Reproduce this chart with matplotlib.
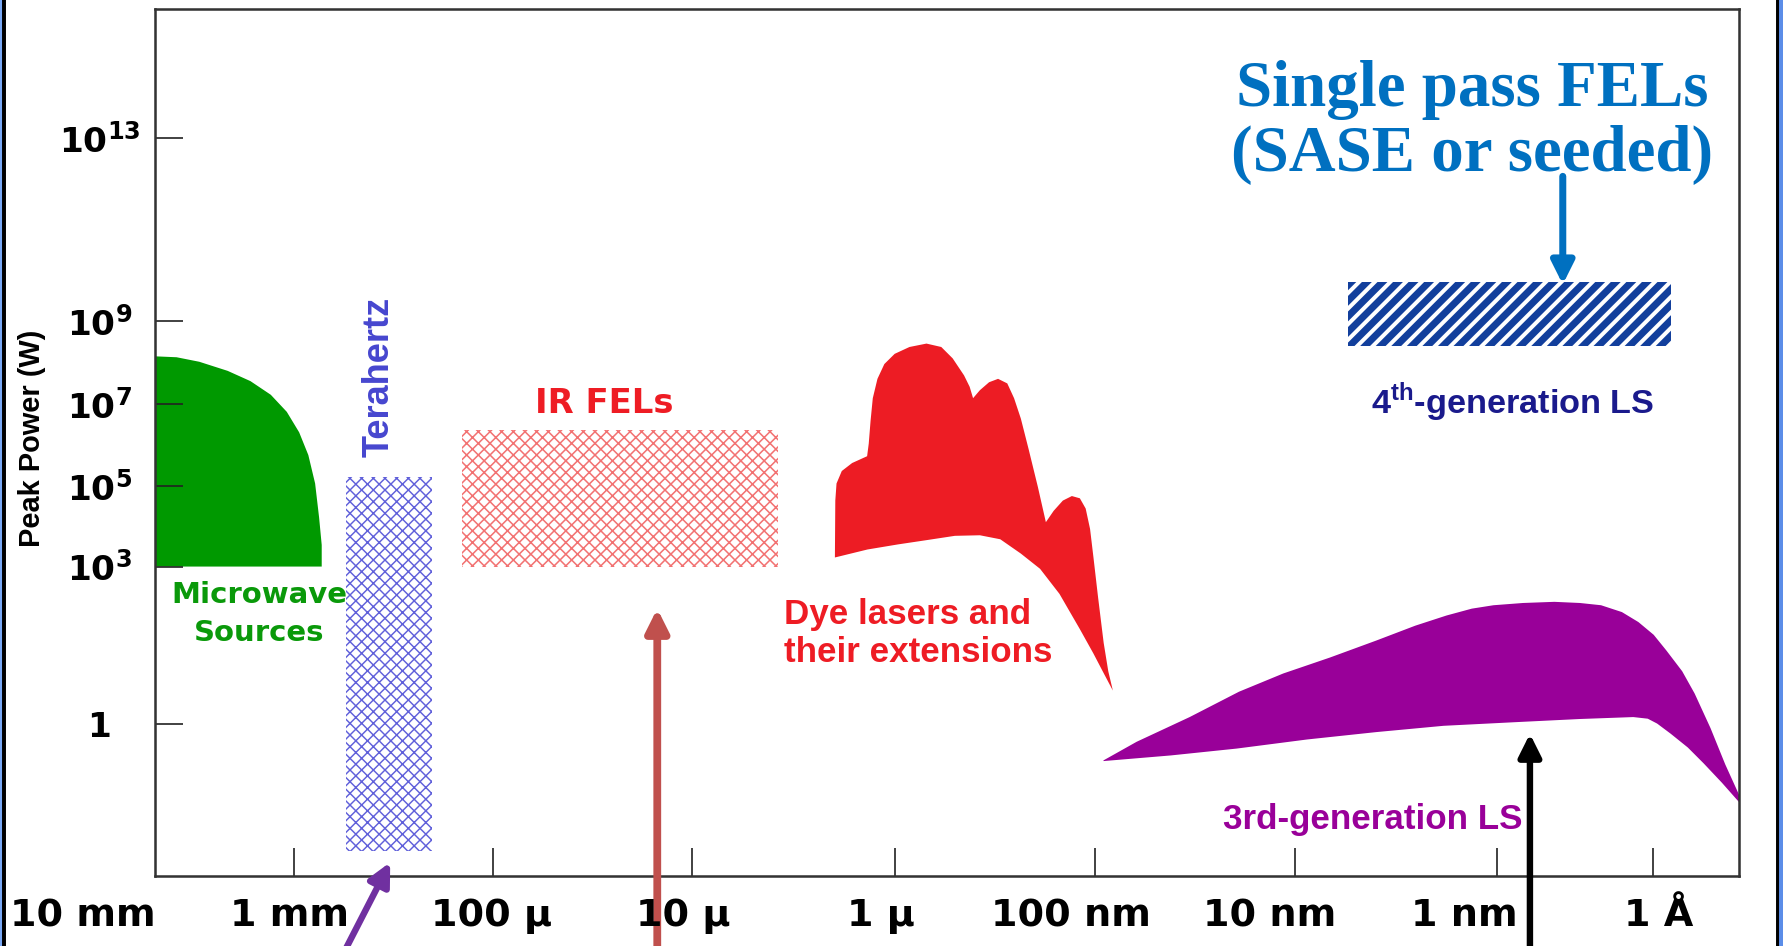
import numpy as np
import matplotlib
matplotlib.use('Agg')
import matplotlib.pyplot as plt
from matplotlib.patches import Rectangle

plt.rcParams['mathtext.fontset'] = 'custom'
plt.rcParams['mathtext.rm'] = 'Liberation Sans:bold'
plt.rcParams['mathtext.bf'] = 'DejaVu Sans:bold'
plt.rcParams['hatch.linewidth'] = 0.8

# x = -log10(wavelength / m): 10 mm -> 2, 1 mm -> 3, 1 A -> 10
x_ticks = [3, 4, 5, 6, 7, 8, 9, 10]
x_label_pos = [2, 3, 4, 5, 6, 7, 8, 9, 10]
x_labels = ['10 mm', '1 mm', '100 μ', '10 μ', '1 μ', '100 nm', '10 nm', '1 nm', '1 Å']
# y = log10(peak power / W)
y_ticks = [0, 3, 5, 7, 9, 13]
y_labels = ['1', r'$\mathbf{10^{3}}$', r'$\mathbf{10^{5}}$', r'$\mathbf{10^{7}}$',
            r'$\mathbf{10^{9}}$', r'$\mathbf{10^{13}}$']

# source regions (outlines)
micro_n = [2.307, 2.414, 2.528, 2.670, 2.784, 2.886, 2.966, 3.028, 3.074, 3.108, 3.128,
           3.141, 3.141, 2.307]
micro_e = [8.145, 8.123, 8.014, 7.795, 7.548, 7.219, 6.806, 6.306, 5.75, 5.056, 4.211,
           3.535, 3.0, 3.0]

dye_n = [5.705, 5.707, 5.713, 5.739, 5.790, 5.864, 5.872, 5.881, 5.892, 5.915, 5.949, 6.0,
         6.074, 6.159, 6.233, 6.290, 6.347, 6.375, 6.392, 6.426, 6.472, 6.517, 6.563,
         6.597, 6.631, 6.670, 6.716, 6.756, 6.795, 6.841, 6.886, 6.926, 6.955, 6.977,
         6.994, 7.017, 7.045, 7.068, 7.091, 7.040, 6.994, 6.926, 6.824, 6.727, 6.631,
         6.528, 6.426, 6.301, 6.151, 6.017, 5.866, 5.705]
dye_e = [3.225, 4.634, 5.056, 5.361, 5.556, 5.722, 6.028, 6.583, 7.137, 7.603, 7.959, 8.205,
         8.370, 8.452, 8.370, 8.096, 7.685, 7.411, 7.137, 7.329, 7.521, 7.603, 7.493,
         7.137, 6.639, 5.889, 4.972, 4.099, 4.380, 4.634, 4.746, 4.690, 4.437, 3.930,
         3.225, 2.413, 1.543, 1.0, 0.630, 1.0, 1.337, 1.804, 2.478, 2.957, 3.321,
         3.676, 3.775, 3.761, 3.648, 3.549, 3.423, 3.225]

sr_n = [7.044, 7.210, 7.475, 7.722, 7.943, 8.174, 8.404, 8.596, 8.751, 8.876, 8.983, 9.168,
        9.369, 9.533, 9.669, 9.803, 9.909, 10.007, 10.088, 10.190, 10.270, 10.372, 10.467,
        10.555, 10.555, 10.445, 10.328, 10.226, 10.117, 10.029, 9.969, 9.876, 9.533,
        9.128, 8.736, 8.404, 8.062, 7.710, 7.381, 7.044]
sr_e = [-0.704, -0.348, 0.124, 0.609, 0.957, 1.261, 1.587, 1.870, 2.065, 2.196, 2.261, 2.304,
        2.326, 2.304, 2.261, 2.130, 1.939, 1.696, 1.398, 1.0, 0.574, -0.087, -0.783,
        -1.359, -1.5, -1.130, -0.761, -0.457, -0.196, 0.0, 0.093, 0.124, 0.087,
        0.028, -0.043, -0.163, -0.304, -0.478, -0.609, -0.717]

thz_n = [3.265, 3.694]
thz_e = [-2.435, 5.222]
irfel_n = [3.842, 5.422]
irfel_e = [3.0, 6.361]
fel4_n = [8.264, 10.117]
fel4_e = [8.397, 9.845]

# the hand drawn axes are not evenly spaced per decade
x_knot = [1, 2, 3, 4, 5, 6, 7, 8, 9, 10, 11]
x_knot_pos = [-93.4, 82.3, 258, 433.7, 608.7, 787, 963, 1139, 1317, 1454, 1591]
y_knot = [-8, 0, 3, 5, 7, 9, 13, 17]
y_knot_pos = [-1004, -636, -498, -427, -355, -282, -121, 40]


def fx(v):
    return np.interp(v, x_knot, x_knot_pos)


def fx_inv(v):
    return np.interp(v, x_knot_pos, x_knot)


def fy(v):
    return np.interp(v, y_knot, y_knot_pos)


def fy_inv(v):
    return np.interp(v, y_knot_pos, y_knot)


DPI = 140
fig = plt.figure(figsize=(1783 / DPI, 946 / DPI), dpi=DPI)
ax = fig.add_axes([155 / 1783, 1 - 876 / 946, (1739 - 155) / 1783, (876 - 9) / 946])
ax.set_xscale('function', functions=(fx, fx_inv))
ax.set_yscale('function', functions=(fy, fy_inv))
ax.set_xlim(2.306, 10.555)
ax.set_ylim(-2.913, 15.81)

ax.fill(micro_n, micro_e, color='#009900', lw=0)
ax.fill(dye_n, dye_e, color='#ed1c24', lw=0)
ax.fill(sr_n, sr_e, color='#990099', lw=0)


def hatched_box(xs, ys, color, hatch, hlw):
    p, = ax.fill([xs[0], xs[1], xs[1], xs[0]], [ys[0], ys[0], ys[1], ys[1]],
                 facecolor='none', edgecolor=color, lw=0, hatch=hatch)
    if hasattr(p, 'set_hatch_linewidth'):
        p.set_hatch_linewidth(hlw)


hatched_box(thz_n, thz_e, '#6060da', 'xxxx', 0.75)
hatched_box(irfel_n, irfel_e, '#f27272', 'xxxx', 0.8)
hatched_box(fel4_n, fel4_e, '#123f9c', '///', 3.6)

# labels
ax.text(2.829, 2.087, 'Microwave\nSources', color='#0a990a', fontsize=15.0,
        fontweight='bold', family='DejaVu Sans', ha='center', va='center', linespacing=1.45)
ax.text(3.43, 7.66, 'Terahertz', rotation=90, color='#4646cf', fontsize=18.6,
        fontweight='bold', family='Liberation Sans', ha='center', va='center')
ax.text(4.556, 7.0, 'IR FELs', color='#ee1c24', fontsize=17.4, fontweight='bold',
        family='DejaVu Sans', ha='center', va='center')
ax.text(5.456, 1.728, 'Dye lasers and\ntheir extensions', color='#ee1c24', fontsize=18.0,
        fontweight='bold', family='Liberation Sans', ha='left', va='center')
ax.text(8.388, -1.826, '3rd-generation LS', color='#990099', fontsize=18.0,
        fontweight='bold', family='Liberation Sans', ha='center', va='center')
ax.text(9.102, 7.03, r'4$^{\mathrm{th}}$-generation LS', color='#1a1a8c', fontsize=17.6,
        fontweight='bold', family='Liberation Sans', ha='center', va='center')
ax.text(8.876, 13.33, 'Single pass FELs\n(SASE or seeded)', color='#0070c0', fontsize=33.4,
        fontweight='bold', family='Liberation Serif', ha='center', va='center', linespacing=1.1)

# arrows
arrows = [
    ((9.423, 9.795), (9.423, 12.155), '#0070c0', 3.6),
    ((3.484, -2.652), (3.215, -4.65), '#7030a0', 3.3),
    ((4.825, 2.196), (4.825, -4.65), '#c0504d', 4.0),
    ((9.212, -0.196), (9.212, -4.65), 'black', 3.3),
]
for tip, start, c, w in arrows:
    ax.annotate('', xy=tip, xytext=start,
                arrowprops=dict(arrowstyle='-|>', color=c, lw=w, mutation_scale=24,
                                shrinkA=0, shrinkB=0),
                annotation_clip=False)

ax.set_xticks(x_ticks)
ax.set_xticklabels([])
ax.set_yticks(y_ticks)
ax.set_yticklabels(y_labels, fontweight='bold', fontsize=17.7, family='DejaVu Sans', ha='center')
ax.minorticks_off()
ax.tick_params(direction='in', length=14.3, width=0.86, color='#222222')
ax.tick_params(axis='y', pad=28.6)

# wavelength labels sit a little left of their ticks in the original
x_label_shift = [-5.9, -2.3, -1.0, -4.6, -7.2, -12.3, -12.9, -17.0, 3.1]
for n, lab, dx in zip(x_label_pos, x_labels, x_label_shift):
    ax.annotate(lab, xy=(n, 0), xycoords=('data', 'axes fraction'), xytext=(dx, -11.4),
                textcoords='offset points', ha='center', va='top', fontsize=19.6,
                fontweight='bold', family='DejaVu Sans', annotation_clip=False)

ax.text(-0.0777, 0.505, 'Peak Power (W)', transform=ax.transAxes, rotation=90,
        ha='center', va='center', fontsize=14.9, fontweight='bold', family='Liberation Sans')

for s in ax.spines.values():
    s.set_linewidth(1.3)
    s.set_color('#333333')

# slide border
fig.patches.append(Rectangle((0, 0), 3 / 1783, 1, transform=fig.transFigure, color='#7aa9f5'))
fig.patches.append(Rectangle((3 / 1783, 0), 2 / 1783, 1, transform=fig.transFigure, color='black'))
fig.patches.append(Rectangle((1777 / 1783, 0), 3 / 1783, 1, transform=fig.transFigure, color='black'))
fig.patches.append(Rectangle((1780 / 1783, 0), 3 / 1783, 1, transform=fig.transFigure, color='#5b8de8'))

fig.savefig('out.png', dpi=DPI)
